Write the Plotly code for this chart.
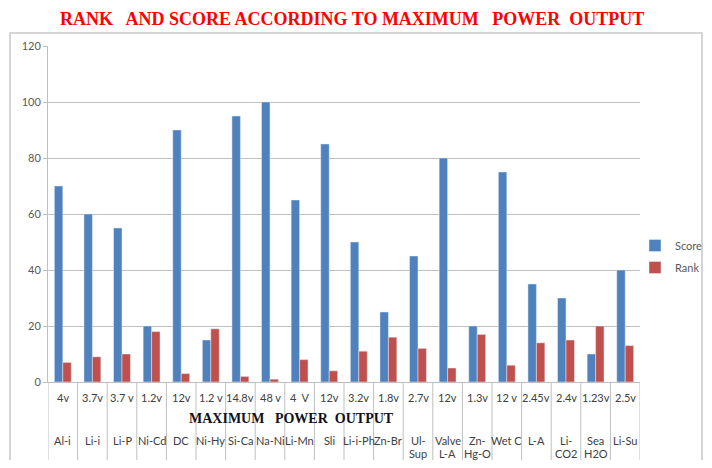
import plotly.graph_objects as go

categories = ["Al-i", "Li-i", "Li-P", "Ni-Cd", "DC", "Ni-Hy", "Si-Ca", "Na-Ni", "Li-Mn", "Sli",
              "Li-i-Ph", "Zn-Br", "Ul-Sup", "Valve L-A", "Zn-Hg-O", "Wet C", "L-A", "Li-CO2",
              "Sea H2O", "Li-Su"]
name_labels = ["Al-i", "Li-i", "Li-P", "Ni-Cd", "DC", "Ni-Hy", "Si-Ca", "Na-Ni", "Li-Mn", "Sli",
               "Li-i-Ph", "Zn-Br", "Ul-<br>Sup", "Valve<br>L-A", "Zn-<br>Hg-O", "Wet C", "L-A",
               "Li-<br>CO2", "Sea<br>H2O", "Li-Su"]
voltages = ["4v", "3.7v", "3.7 v", "1.2v", "12v", "1.2 v", "14.8v", "48 v", "4  V", "12v",
            "3.2v", "1.8v", "2.7v", "12v", "1.3v", "12 v", "2.45v", "2.4v", "1.23v", "2.5v"]
score = [70, 60, 55, 20, 90, 15, 95, 100, 65, 85, 50, 25, 45, 80, 20, 75, 35, 30, 10, 40]
rank = [7, 9, 10, 18, 3, 19, 2, 1, 8, 4, 11, 16, 12, 5, 17, 6, 14, 15, 20, 13]
y_ticks = [0, 20, 40, 60, 80, 100, 120]

# page body has an 8px margin on every side: keep the figure inside the window
OFF = 8
W, H = 712 - 2 * OFF, 468 - 2 * OFF
# plot area in window pixels
L, R, T, B = 48, 640, 46, 382
def px(xp):
    return (xp - L) / (R - L)
def py(yp):
    return (B - yp) / (B - T)

fig = go.Figure()
fig.add_trace(go.Bar(x=categories, y=score, name="Score", marker_color="#4F81BD", legendgroup="s"))
fig.add_trace(go.Bar(x=categories, y=rank, name="Rank", marker_color="#C0504D", legendgroup="r"))

lab_font = dict(family="Lato, Open Sans, sans-serif", size=11, color="#404040")
ann = []
for c, v, n in zip(categories, voltages, name_labels):
    ann.append(dict(x=c, xref="x", y=py(397), yref="paper", text=v.replace(" ", "\u00a0"),
                    showarrow=False, font=lab_font, yanchor="middle"))
    for k, line in enumerate(n.split("<br>")):
        ann.append(dict(x=c, xref="x", y=py(440 + 13 * k), yref="paper", text=line,
                        showarrow=False, font=lab_font, yanchor="middle"))
ann.append(dict(x=px(291), xref="paper", y=py(418), yref="paper",
                text="<b>MAXIMUM\u00a0\u00a0 POWER\u00a0 OUTPUT</b>", showarrow=False,
                font=dict(family="Liberation Serif, Times New Roman, serif", size=14, color="#101020"),
                yanchor="middle"))
ann.append(dict(x=px(352), xref="paper", y=py(19), yref="paper",
                text="<b>RANK\u00a0\u00a0 AND SCORE ACCORDING TO MAXIMUM\u00a0\u00a0 POWER\u00a0 OUTPUT</b>",
                showarrow=False,
                font=dict(family="Liberation Serif, Times New Roman, serif", size=18, color="#FF0000"),
                yanchor="middle"))

shapes = []
for i in range(len(categories) + 1):
    shapes.append(dict(type="line", xref="x", x0=i - 0.5, x1=i - 0.5, yref="paper",
                       y0=0, y1=py(460), line=dict(color="#BFBFBF", width=1)))
shapes.append(dict(type="rect", xref="paper", yref="paper", x0=px(10), x1=px(702),
                   y0=py(461), y1=py(33), line=dict(color="#C8C8C8", width=1.5), layer="below"))

fig.update_layout(
    width=W, height=H,
    margin=dict(l=L - OFF, r=(W + OFF - R), t=T - OFF, b=(H + OFF - B), autoexpand=False),
    paper_bgcolor="white", plot_bgcolor="white",
    barmode="group", bargap=0.43, bargroupgap=0,
    showlegend=True,
    legend=dict(x=px(635), y=py(231), xanchor="left", yanchor="top",
                font=dict(family="Lato, Open Sans, sans-serif", size=11, color="#595959"),
                bgcolor="rgba(0,0,0,0)", traceorder="grouped", tracegroupgap=3, itemwidth=30),
    annotations=ann,
    shapes=shapes,
)
fig.update_xaxes(range=[-0.5, len(categories) - 0.5], showticklabels=False, showgrid=False,
                 showline=True, linecolor="#BFBFBF", ticks="", zeroline=False)
fig.update_yaxes(range=[0, 120], tickvals=y_ticks, showgrid=True, gridcolor="#BFBFBF",
                 showline=True, linecolor="#BFBFBF", ticks="outside", ticklen=4,
                 tickcolor="#BFBFBF", zeroline=False,
                 tickfont=dict(family="Lato, Open Sans, sans-serif", size=11, color="#595959"))

fig.write_html("out.html")
